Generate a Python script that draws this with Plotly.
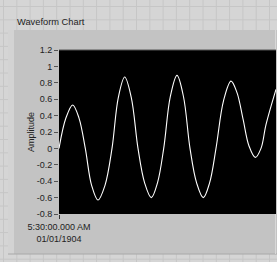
import plotly.graph_objects as go

# Waveform samples (sample position, amplitude)
sample_pos = [0, 6.9, 13.7, 20, 26.3, 32.6, 39, 46, 53, 59.3, 65.7, 72.3, 79, 85.6, 92.3, 98.5,
              104.7, 111.3, 118, 124.5, 131, 137.6, 144.3, 150.6, 157, 164.5, 172, 178, 184, 190,
              196.3, 202, 207, 217]
amplitude = [0.0, 0.37, 0.53, 0.37, 0.0, -0.45, -0.63, -0.45, 0.0, 0.62, 0.87, 0.62, 0.0, -0.42, -0.60, -0.42,
             0.0, 0.63, 0.89, 0.63, 0.0, -0.42, -0.60, -0.42, 0.0, 0.58, 0.82, 0.68, 0.36, 0.03,
             -0.11, 0.0, 0.29, 0.72]

y_tick_vals = [1.2, 1.0, 0.8, 0.6, 0.4, 0.2, 0.0, -0.2, -0.4, -0.6, -0.8]
y_tick_text = ["1.2", "1", "0.8", "0.6", "0.4", "0.2", "0", "-0.2", "-0.4", "-0.6", "-0.8"]
x_tick_vals = [0]
x_tick_text = ["5:30:00.000 AM<br>01/01/1904"]

W, H = 277, 262
L, R, T, B = 59, 1, 50, 48
PW, PH = W - L - R, H - T - B

def px(x):
    return (x - L) / PW

def py(y):
    return (H - B - y) / PH

FONT = "Liberation Sans, Arial, sans-serif"
TXT = "#222222"

shapes = []
# background grid
gx = 3.5
while gx < W:
    shapes.append(dict(type="line", xref="paper", yref="paper", x0=px(gx), x1=px(gx),
                       y0=py(0), y1=py(H), line=dict(color="#c6c6c6", width=1), layer="below"))
    gx += 13.3
gy = 6.5
while gy < H:
    shapes.append(dict(type="line", xref="paper", yref="paper", x0=px(0), x1=px(W),
                       y0=py(gy), y1=py(gy), line=dict(color="#c6c6c6", width=1), layer="below"))
    gy += 13.3
# panel
shapes.append(dict(type="rect", xref="paper", yref="paper", x0=px(8), x1=px(W + 2),
                   y0=py(254), y1=py(30), fillcolor="#c3c3c3", line=dict(width=0), layer="below"))
shapes.append(dict(type="rect", xref="paper", yref="paper", x0=px(8), x1=px(14),
                   y0=py(254), y1=py(30), fillcolor="#d3d3d3", line=dict(width=0), layer="below"))
shapes.append(dict(type="line", xref="paper", yref="paper", x0=px(8), x1=px(W),
                   y0=py(254), y1=py(254), line=dict(color="#a8a8a8", width=1), layer="below"))
shapes.append(dict(type="line", xref="paper", yref="paper", x0=px(275.5), x1=px(275.5),
                   y0=py(254), y1=py(30), line=dict(color="#d8d8d8", width=1), layer="below"))
# plot area
shapes.append(dict(type="rect", xref="paper", yref="paper", x0=0, x1=1, y0=0, y1=1,
                   fillcolor="#000000", line=dict(width=0), layer="below"))
shapes.append(dict(type="line", xref="paper", yref="paper", x0=0, x1=1, y0=1, y1=1,
                   line=dict(color="#555555", width=1), layer="below"))

fig = go.Figure()
fig.add_trace(go.Scatter(x=sample_pos, y=amplitude, mode="lines",
                         line=dict(color="#ffffff", width=1.1, shape="spline", smoothing=1.0),
                         hoverinfo="skip"))

fig.update_layout(
    width=W, height=H,
    margin=dict(l=L, r=R, t=T, b=B, pad=0),
    paper_bgcolor="#d5d5d5",
    plot_bgcolor="#000000",
    showlegend=False,
    shapes=shapes,
    font=dict(family=FONT, size=9, color=TXT),
    annotations=[
        dict(text="Waveform Chart", xref="paper", yref="paper", x=px(15), y=py(22.5),
             xanchor="left", yanchor="middle", showarrow=False,
             font=dict(family=FONT, size=9.3, color=TXT)),
        dict(text="Amplitude", xref="paper", yref="paper", x=px(31), y=py(132),
             xanchor="center", yanchor="middle", textangle=-90, showarrow=False,
             font=dict(family=FONT, size=9, color=TXT)),
    ],
    xaxis=dict(range=[0, 217], showgrid=False, zeroline=False, showline=False,
               tickmode="array", tickvals=x_tick_vals, ticktext=x_tick_text,
               ticks="outside", ticklen=4, tickcolor="#333333", tickwidth=1,
               tickfont=dict(family=FONT, size=9, color=TXT), fixedrange=True),
    yaxis=dict(range=[-0.8, 1.2], showgrid=False, zeroline=False, showline=False,
               tickmode="array", tickvals=y_tick_vals, ticktext=y_tick_text,
               ticks="outside", ticklen=4, tickcolor="#555555", tickwidth=1,
               tickfont=dict(family=FONT, size=9, color=TXT), fixedrange=True),
)

fig.write_html("out.html", config={"displayModeBar": False},
               post_script="document.body.style.margin='0';document.body.style.overflow='hidden';")
